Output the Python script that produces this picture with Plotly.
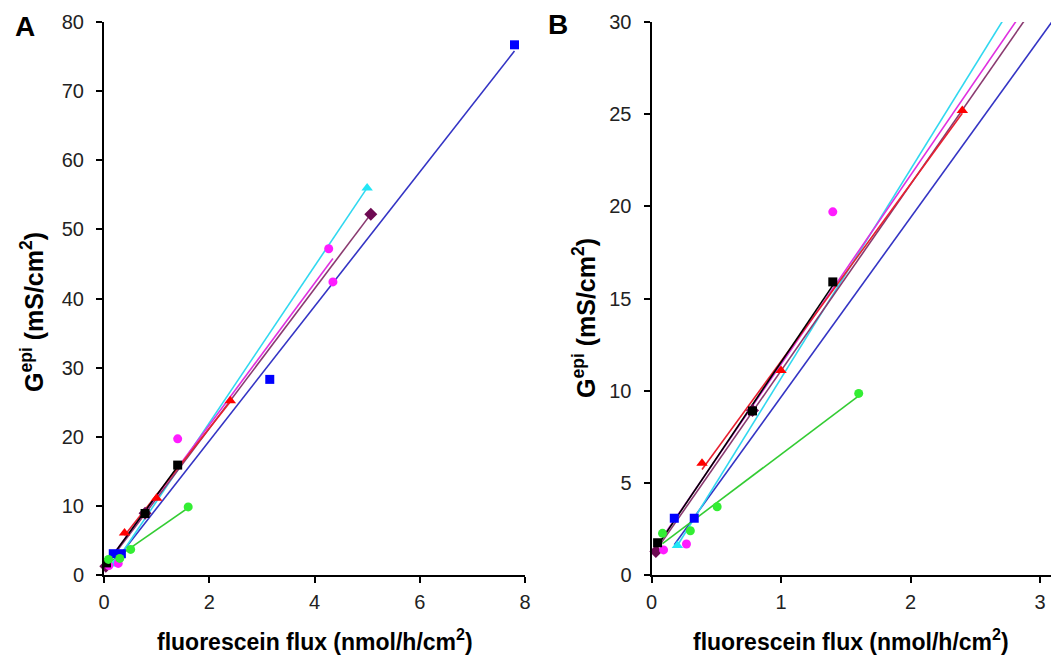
import numpy as np
import plotly.graph_objects as go

# ---------------- data ----------------
series_names = ["blue", "cyan", "purple", "magenta", "red", "black", "green"]

blue_x = [0.176, 0.33, 3.15, 7.8]
blue_y = [3.08, 3.08, 28.3, 76.7]

cyan_x = [0.2, 5.0]
cyan_y = [1.6, 56.0]

purple_x = [0.034, 0.78, 5.07]
purple_y = [1.27, 8.92, 52.2]

magenta_x = [0.093, 0.27, 1.4, 4.27, 4.35]
magenta_y = [1.36, 1.68, 19.7, 47.2, 42.4]

red_x = [0.39, 1.0, 2.4]
red_y = [6.06, 11.1, 25.2]

black_x = [0.047, 0.78, 1.4]
black_y = [1.75, 8.9, 15.9]

green_x = [0.085, 0.30, 0.507, 1.6]
green_y = [2.26, 2.40, 3.7, 9.85]

xticks_A = [0, 2, 4, 6, 8]
yticks_A = [0, 10, 20, 30, 40, 50, 60, 70, 80]
xticks_B = [0, 1, 2, 3]
yticks_B = [0, 5, 10, 15, 20, 25, 30]

x_title = "fluorescein flux (nmol/h/cm<sup>2</sup>)"
y_title = "G<sup>epi</sup> (mS/cm<sup>2</sup>)"

# ---------------- styles ----------------
styles = {
    "blue":    dict(marker="#0000FF", line="#3434C4", symbol="square", size=9),
    "cyan":    dict(marker="#22E6F5", line="#30D8F0", symbol="triangle-up", size=10),
    "purple":  dict(marker="#6E0A52", line="#8A3A70", symbol="diamond", size=10),
    "magenta": dict(marker="#FF1CFF", line="#E030E0", symbol="circle", size=9),
    "red":     dict(marker="#FF0000", line="#E82030", symbol="triangle-up", size=10),
    "black":   dict(marker="#000000", line="#000000", symbol="square", size=9),
    "green":   dict(marker="#33EE33", line="#33CC33", symbol="circle", size=9),
}
data = {
    "blue": (blue_x, blue_y), "cyan": (cyan_x, cyan_y), "purple": (purple_x, purple_y),
    "magenta": (magenta_x, magenta_y), "red": (red_x, red_y),
    "black": (black_x, black_y), "green": (green_x, green_y),
}

W, H = 1059, 663
OFF = 8  # page body margin offset

def px(x):
    return (x - OFF) / W

def py(y):
    return 1 - (y - OFF) / H

fig = go.Figure()

FONT = "Liberation Sans, Arial, sans-serif"
B_YMAX = 30

for axis_suffix, ymax in (("", 80), ("2", B_YMAX)):
    xa = "x" + axis_suffix
    ya = "y" + axis_suffix
    for name in series_names:
        xs, ys = data[name]
        st = styles[name]
        slope, icpt = np.polyfit(xs, ys, 1)
        lx = np.array([min(xs), max(xs)])
        fig.add_trace(go.Scatter(
            x=lx, y=slope * lx + icpt, mode="lines",
            line=dict(color=st["line"], width=1.6),
            xaxis=xa, yaxis=ya, showlegend=False, hoverinfo="skip"))
    for name in series_names:
        xs, ys = data[name]
        st = styles[name]
        vis = [(a, b) for a, b in zip(xs, ys) if b <= ymax]
        fig.add_trace(go.Scatter(
            x=[v[0] for v in vis], y=[v[1] for v in vis], mode="markers",
            marker=dict(color=st["marker"], symbol=st["symbol"], size=st["size"],
                        line=dict(width=0)),
            cliponaxis=False,
            xaxis=xa, yaxis=ya, showlegend=False))

axis_common = dict(
    showgrid=False, zeroline=False, showline=True, linecolor="black", linewidth=2,
    ticks="outside", ticklen=6, tickwidth=1.5, tickcolor="black", automargin=False,
    tickfont=dict(family=FONT, size=20, color="#222"),
)

A_x0, A_x1 = 104, 525
B_x0 = 651.5
B_unit = 129.5
y_top, y_bot = 22, 575

fig.update_layout(
    width=W, height=H,
    margin=dict(l=0, r=0, t=0, b=0, autoexpand=False),
    paper_bgcolor="white", plot_bgcolor="white",
    xaxis=dict(domain=[px(A_x0), px(A_x1)], range=[0, 8], tickvals=xticks_A,
               anchor="y", ticklabelstandoff=2, **axis_common),
    yaxis=dict(domain=[py(y_bot), py(y_top)], range=[0, 80], tickvals=yticks_A,
               anchor="x", ticklabelstandoff=8, **axis_common),
    xaxis2=dict(domain=[px(B_x0), 1.0], range=[0, (W + OFF - B_x0) / B_unit],
                tickvals=xticks_B, anchor="y2", ticklabelstandoff=2, **axis_common),
    yaxis2=dict(domain=[py(y_bot), py(y_top)], range=[0, 30], tickvals=yticks_B,
                anchor="x2", ticklabelstandoff=8, **axis_common),
)

ann_font = dict(family=FONT, size=23, color="black")
yt_font = dict(family=FONT, size=25, color="black")
annotations = [
    dict(text="<b>" + x_title + "</b>", x=px(315), y=py(640), xref="paper", yref="paper",
         showarrow=False, font=ann_font, xanchor="center", yanchor="middle"),
    dict(text="<b>" + x_title + "</b>", x=px(851), y=py(640), xref="paper", yref="paper",
         showarrow=False, font=ann_font, xanchor="center", yanchor="middle"),
    dict(text="<b>" + y_title + "</b>", x=px(32), y=py(312), xref="paper", yref="paper",
         showarrow=False, font=yt_font, textangle=-90, xanchor="center", yanchor="middle"),
    dict(text="<b>" + y_title + "</b>", x=px(584), y=py(318), xref="paper", yref="paper",
         showarrow=False, font=yt_font, textangle=-90, xanchor="center", yanchor="middle"),
    dict(text="<b>A</b>", x=px(25), y=py(26), xref="paper", yref="paper",
         showarrow=False, font=dict(family=FONT, size=28, color="black"),
         xanchor="center", yanchor="middle"),
    dict(text="<b>B</b>", x=px(558), y=py(24), xref="paper", yref="paper",
         showarrow=False, font=dict(family=FONT, size=28, color="black"),
         xanchor="center", yanchor="middle"),
]
fig.update_layout(annotations=annotations)

fig.write_html("out.html")
